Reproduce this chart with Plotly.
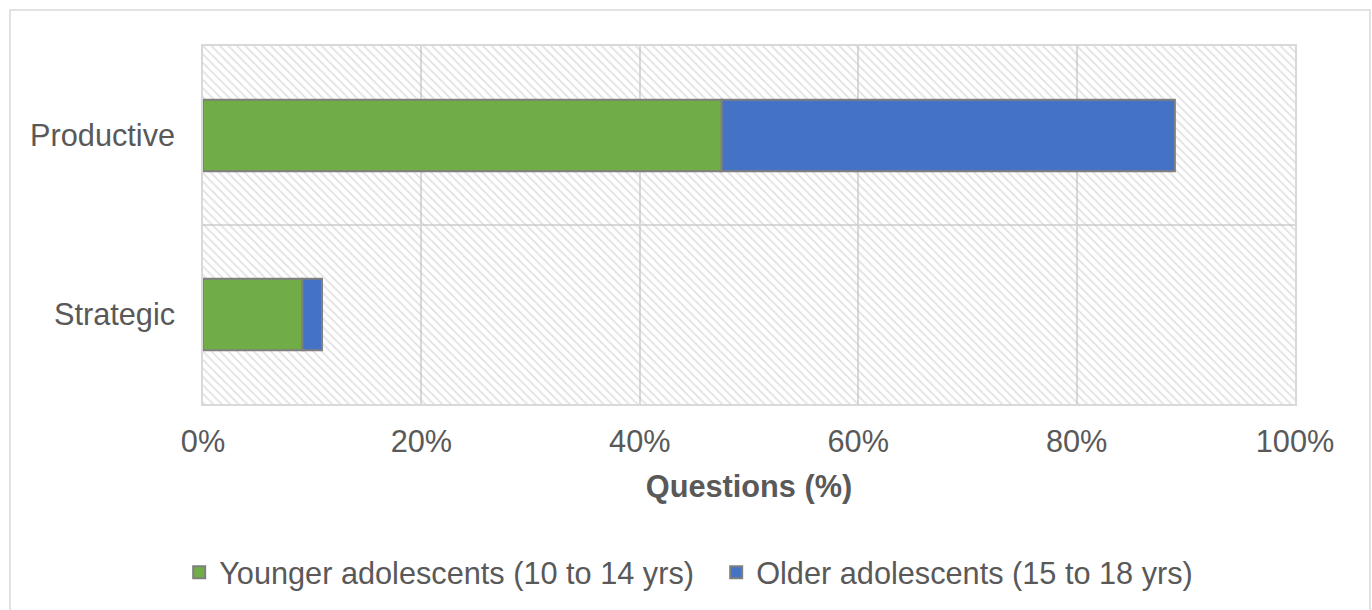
import plotly.graph_objects as go

# Share of questions by type, split by age group
categories = ["Strategic", "Productive"]
younger = [9.1, 47.5]   # Younger adolescents (10 to 14 yrs), %
older = [1.8, 41.5]     # Older adolescents (15 to 18 yrs), %
x_ticks = [0, 20, 40, 60, 80, 100]
x_tick_labels = ["0%", "20%", "40%", "60%", "80%", "100%"]

AXIS_MAX = 100
TEXT = "#595959"
GRID = "#d9d9d9"
FONT = "Liberation Sans, Arial, sans-serif"
FS = 30.7

fig = go.Figure()

# Hatched plot-area background (one full-height band per category)
fig.add_trace(go.Bar(
    y=categories, x=[AXIS_MAX] * len(categories), base=0, orientation="h",
    width=1, showlegend=False, hoverinfo="skip",
    marker=dict(color="rgba(0,0,0,0)", line=dict(width=0),
                pattern=dict(shape="\\", fgcolor="#c4c4c4", bgcolor="rgba(0,0,0,0)",
                             size=6, solidity=0.3)),
))

fig.add_trace(go.Bar(
    y=categories, x=younger, base=0, orientation="h", width=0.4,
    name="Younger adolescents (10 to 14 yrs)",
    marker=dict(color="#70AD47", line=dict(color="#7f7f7f", width=2)),
))
fig.add_trace(go.Bar(
    y=categories, x=older, base=younger, orientation="h", width=0.4,
    name="Older adolescents (15 to 18 yrs)",
    marker=dict(color="#4472C4", line=dict(color="#7f7f7f", width=2)),
))

ml, mr, mt, mb = 203, 77, 46, 206
W, H = 1372, 610
pw, ph = W - ml - mr, H - mt - mb

def px_x(p):
    return (p - ml) / pw

def px_y(p):
    return (H - mb - p) / ph

# Light outer frame around the whole chart
fig.add_shape(type="rect", xref="paper", yref="paper",
              x0=px_x(10), x1=px_x(1370), y0=px_y(625), y1=px_y(10),
              line=dict(color=GRID, width=1.5), fillcolor="rgba(0,0,0,0)", layer="below")

fig.update_layout(
    width=W, height=H,
    margin=dict(l=ml, r=mr, t=mt, b=mb),
    barmode="overlay",
    paper_bgcolor="white", plot_bgcolor="white",
    font=dict(family=FONT, color=TEXT, size=FS),
    xaxis=dict(
        range=[0, AXIS_MAX], tickmode="array", tickvals=x_ticks, ticktext=x_tick_labels,
        showgrid=True, gridcolor=GRID, gridwidth=1.5, zeroline=False,
        showline=True, linecolor=GRID, linewidth=1.5, mirror=True,
        ticks="", ticklabelstandoff=9,
        tickfont=dict(size=FS, color=TEXT),
        title=dict(text="<b>Questions (%)</b>", standoff=18,
                   font=dict(size=FS, color=TEXT)),
    ),
    yaxis=dict(
        type="category", categoryorder="array", categoryarray=categories,
        range=[-0.5, 1.5], tickson="boundaries",
        showgrid=True, gridcolor=GRID, gridwidth=1.5,
        showline=True, linecolor=GRID, linewidth=1.5, mirror=True,
        ticks="", ticklabelstandoff=20,
        tickfont=dict(size=FS, color=TEXT),
    ),
    legend=dict(
        orientation="h", xref="container", x=0.522, xanchor="center",
        yref="container", y=0.062, yanchor="middle",
        entrywidth=492, entrywidthmode="pixels",
        font=dict(size=FS, color=TEXT), traceorder="normal",
    ),
    showlegend=True,
)

fig.write_html("out.html")
